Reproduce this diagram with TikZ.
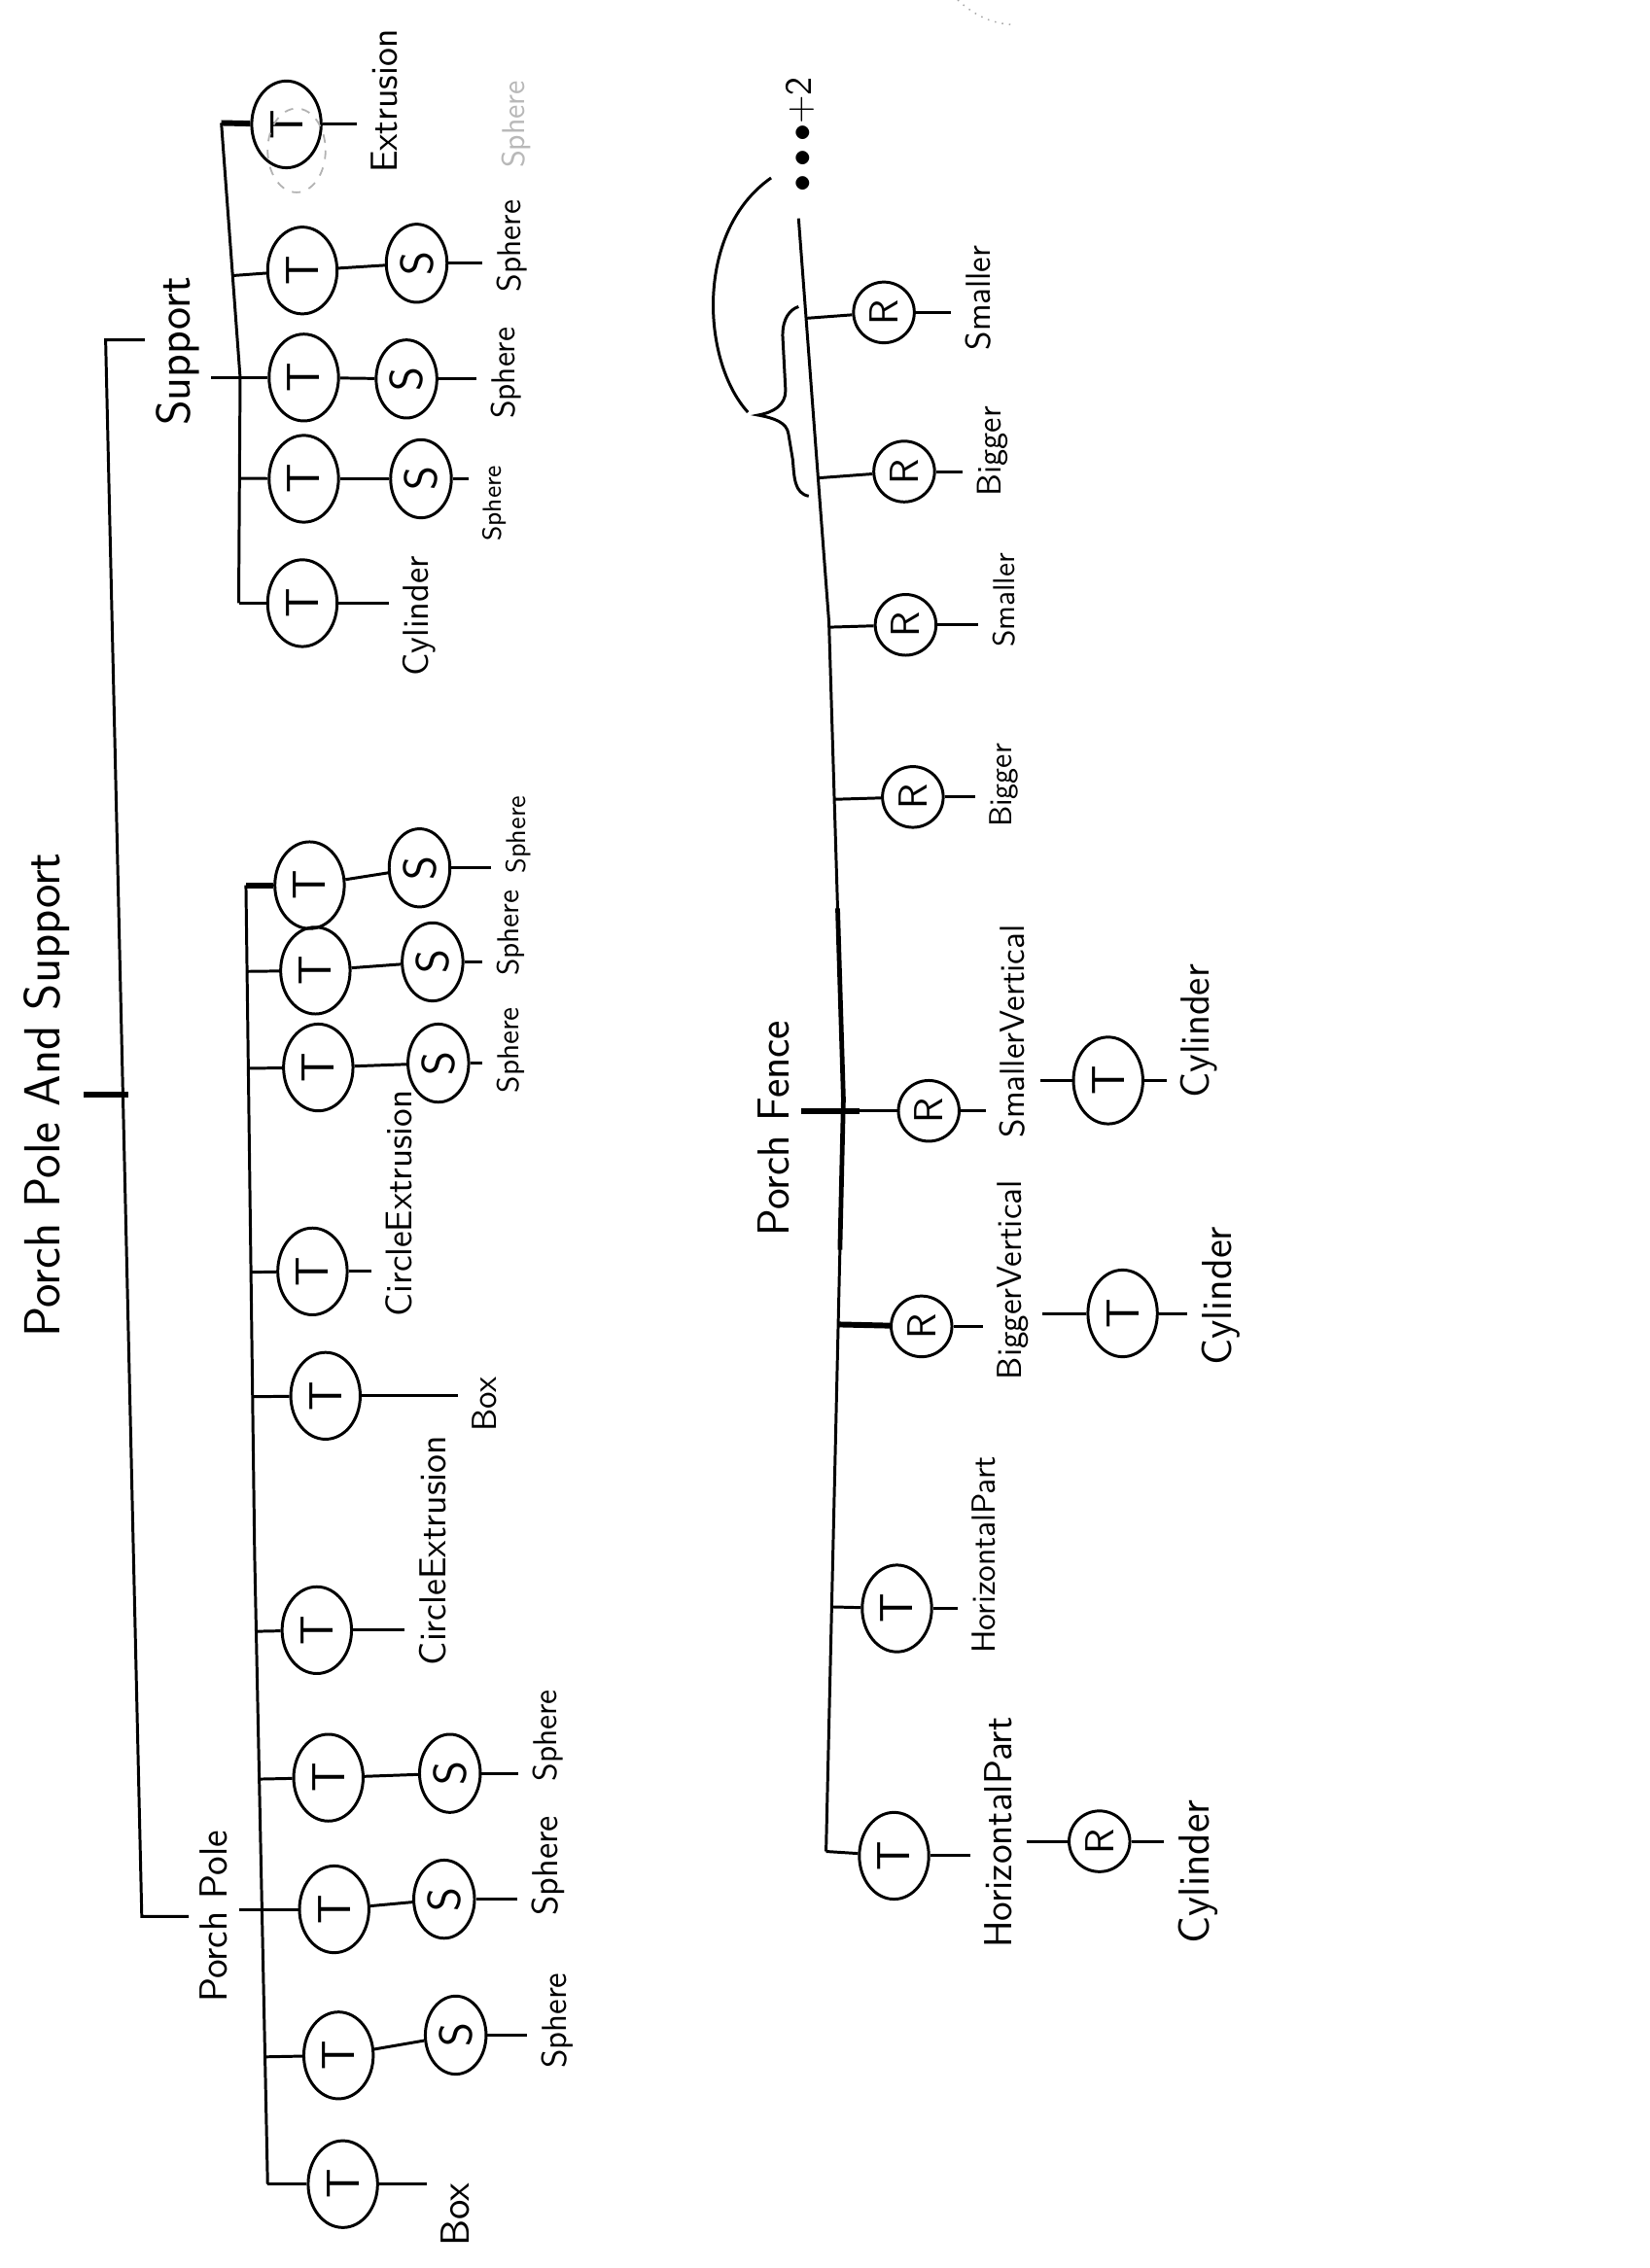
\documentclass[tikz,border=0pt]{standalone}
\usetikzlibrary{shapes.geometric}
\usetikzlibrary{calc}
\renewcommand{\familydefault}{\sfdefault}
\newcommand{\lblsize}[1]{\fontsize{#1}{#1}\selectfont}
\tikzset{
  tnode/.style={ellipse, draw, rotate=90, minimum width=30pt, minimum height=24pt, inner sep=0pt, font=\lblsize{16}},
  snode/.style={tnode, minimum width=27pt, minimum height=21pt},
  rnode/.style={tnode, minimum width=21pt, minimum height=21pt, font=\lblsize{14}},
  leaf/.style={rotate=90, inner sep=1pt, outer sep=4pt, font=\lblsize{11}},
  hublabel/.style={leaf, outer sep=3pt},
  hub/.style={line width=2pt},
  ghost/.style={draw=black!30, line width=0.6pt, dashed},
}

\begin{document}
\begin{tikzpicture}[x=0.5pt,y=0.5pt,yscale=-1,xscale=1,line width=1pt]
\useasboundingbox (0,0) rectangle (1140,1568);

% Text Node
\node[leaf, font=\lblsize{17.5}] (title) at (32,757) {Porch Pole And Support};
\node[hublabel, font=\lblsize{16.5}] (sup) at (123,243) {Support};
\node[hublabel, font=\lblsize{13.5}] (pole) at (148,1325) {Porch Pole};

%Straight Lines: root bracket
\coordinate (brtop) at (73,235);
\coordinate (brbot) at (98,1325);
\draw (brtop -| sup.north) -- (brtop) -- (brbot) -- (brbot -| pole.north);
\draw[hub] (title.south) -- ++(31,0);

%%% Support
\coordinate (sb1) at (153,85);
\coordinate (sb2) at (166,261);
\coordinate (sb3) at (165,417);
\draw (sb1) -- (sb2) -- (sb3);

\node[tnode] (st1) at (198,86) {T};
\node[leaf, font=\lblsize{13}] (stl1) at (266,70) {Extrusion};
\draw[hub] (sb1) -- (st1);
\draw (st1) -- (st1 -| stl1.north);
% erased traces
\draw[ghost] (205,104) ellipse [x radius=20, y radius=29];
\node[leaf, text=black!28, font=\lblsize{11}] (ghost) at (357,86) {Sphere};

\node[tnode] (st2) at (209,187) {T};
\node[snode] (ss2) at (288,182) {S};
\node[leaf, font=\lblsize{11.5}] (stl2) at (354,170) {Sphere};
\draw ($(sb1)!(st2)!(sb2)$) -- (st2);
\draw (st2) -- (ss2);
\draw (ss2) -- (ss2 -| stl2.north);

\node[tnode] (st3) at (210,261) {T};
\node[snode] (ss3) at (281,262) {S};
\node[leaf, font=\lblsize{11.5}] (stl3) at (350,258) {Sphere};
\draw (sup.south |- st3) -- (st3);
\draw (st3) -- (ss3);
\draw (ss3) -- (ss3 -| stl3.north);

\node[tnode] (st4) at (210,331) {T};
\node[snode] (ss4) at (291,331) {S};
\node[leaf, font=\lblsize{9}] (stl4) at (342,348) {Sphere};
\draw ($(sb2)!(st4)!(sb3)$) -- (st4);
\draw (st4) -- (ss4);
\draw (ss4) -- (ss4 -| stl4.north);

\node[tnode] (st5) at (209,417) {T};
\node[leaf, font=\lblsize{12.5}] (stl5) at (290,426) {Cylinder};
\draw (sb3) -- (st5);
\draw (st5) -- (st5 -| stl5.north);

%%% Porch Pole
\coordinate (pb1) at (170,612);
\coordinate (pb2) at (176,1075);
\coordinate (pb3) at (185,1510);
\draw (pb1) -- (pb2) -- (pb3);

\node[tnode] (pt1) at (214,612) {T};
\node[snode] (ps1) at (290,600) {S};
\node[leaf, font=\lblsize{9.5}] (ptl1) at (358,577) {Sphere};
\draw[hub] (pb1) -- (pt1);
\draw (pt1) -- (ps1);
\draw (ps1) -- (ps1 -| ptl1.north);

\node[tnode] (pt2) at (218,671) {T};
\node[snode] (ps2) at (299,665) {S};
\node[leaf, font=\lblsize{10.5}] (ptl2) at (353,645) {Sphere};
\draw ($(pb1)!(pt2)!(pb2)$) -- (pt2);
\draw (pt2) -- (ps2);
\draw (ps2) -- (ps2 -| ptl2.north);

\node[tnode] (pt3) at (220,738) {T};
\node[snode] (ps3) at (303,735) {S};
\node[leaf, font=\lblsize{10.5}] (ptl3) at (353,726) {Sphere};
\draw ($(pb1)!(pt3)!(pb2)$) -- (pt3);
\draw (pt3) -- (ps3);
\draw (ps3) -- (ps3 -| ptl3.north);

\node[tnode] (pt4) at (216,879) {T};
\node[leaf, font=\lblsize{12.8}] (ptl4) at (276,832) {CircleExtrusion};
\draw ($(pb1)!(pt4)!(pb2)$) -- (pt4);
\draw (pt4) -- (pt4 -| ptl4.north);

\node[tnode] (pt5) at (225,965) {T};
\node[leaf, font=\lblsize{12}] (ptl5) at (335,971) {Box};
\draw ($(pb1)!(pt5)!(pb2)$) -- (pt5);
\draw (pt5) -- (pt5 -| ptl5.north);

\node[tnode] (pt6) at (219,1127) {T};
\node[leaf, font=\lblsize{13}] (ptl6) at (299,1072) {CircleExtrusion};
\draw ($(pb2)!(pt6)!(pb3)$) -- (pt6);
\draw (pt6) -- (pt6 -| ptl6.north);

\node[tnode] (pt7) at (227,1229) {T};
\node[snode] (ps7) at (311,1226) {S};
\node[leaf, font=\lblsize{11.5}] (ptl7) at (379,1200) {Sphere};
\draw ($(pb2)!(pt7)!(pb3)$) -- (pt7);
\draw (pt7) -- (ps7);
\draw (ps7) -- (ps7 -| ptl7.north);

\node[tnode] (pt8) at (231,1320) {T};
\node[snode] (ps8) at (307,1313) {S};
\node[leaf, font=\lblsize{12.5}] (ptl8) at (379,1290) {Sphere};
\draw (pole.south |- pt8) -- (pt8);
\draw (pt8) -- (ps8);
\draw (ps8) -- (ps8 -| ptl8.north);

\node[tnode] (pt9) at (234,1421) {T};
\node[snode] (ps9) at (315,1407) {S};
\node[leaf, font=\lblsize{12}] (ptl9) at (385,1397) {Sphere};
\draw ($(pb2)!(pt9)!(pb3)$) -- (pt9);
\draw (pt9) -- (ps9);
\draw (ps9) -- (ps9 -| ptl9.north);

\node[tnode] (pt10) at (237,1510) {T};
\node[leaf, font=\lblsize{14}] (ptl10) at (315,1531) {Box};
\draw (pb3) -- (pt10);
\draw (pt10) -- (pt10 -| ptl10.north);

%%% Porch Fence
\node[hublabel, font=\lblsize{15.5}] (fence) at (535,780) {Porch Fence};
\node[leaf, outer sep=0pt, font=\lblsize{13}] (more) at (553,93) {$\bullet\bullet\bullet$+2};
\coordinate (fb1) at (552,151);
\coordinate (fb2) at (573,430);
\coordinate (fb3) at (583,760);
\coordinate (fb4) at (571,1280);
\draw (fb1) -- (fb2) -- (fb3) -- (fb4);
\draw[line width=1.6pt] ($(fb2)!0.6!(fb3)$) -- (fb3) -- ($(fb3)!0.2!(fb4)$);

\node[rnode] (fr1) at (611,216) {R};
\node[leaf, font=\lblsize{12}] (frl1) at (676,206) {Smaller};
\draw ($(fb1)!(fr1)!(fb2)$) -- (fr1);
\draw (fr1) -- (fr1 -| frl1.north);

\node[rnode] (fr2) at (625,326) {R};
\node[leaf, font=\lblsize{11.8}] (frl2) at (686,312) {Bigger};
\draw ($(fb1)!(fr2)!(fb2)$) -- (fr2);
\draw (fr2) -- (fr2 -| frl2.north);

\node[rnode] (fr3) at (626,432) {R};
\node[leaf, font=\lblsize{10.5}] (frl3) at (694,415) {Smaller};
\draw ($(fb2)!(fr3)!(fb3)$) -- (fr3);
\draw (fr3) -- (fr3 -| frl3.north);

\node[rnode] (fr4) at (631,551) {R};
\node[leaf, font=\lblsize{11}] (frl4) at (694,543) {Bigger};
\draw ($(fb2)!(fr4)!(fb3)$) -- (fr4);
\draw (fr4) -- (fr4 -| frl4.north);

% brace over the Bigger / Smaller pair
\draw (559,343) .. controls (549,341) and (549,330) .. (548,318) -- (545,300) .. controls (544,292) and (535,289) .. (524,287) .. controls (535,285) and (543,280) .. (543,270) -- (541,232) .. controls (541,220) and (546,214) .. (552,212);
\draw (517,285) .. controls (485,250) and (480,160) .. (533,123);

\node[rnode] (fr5) at (642,768) {R};
\node[leaf, font=\lblsize{12}] (frl5) at (700,713) {SmallerVertical};
\node[tnode] (ft5) at (766,747) {T};
\node[leaf, font=\lblsize{14}] (ftl5) at (829,713) {Cylinder};
\draw[hub] (fence.south |- fr5) -- ($(fence.south |- fr5)+(40,0)$);
\draw (fence.south |- fr5) -- (fr5);
\draw (fr5) -- (fr5 -| frl5.north);
\draw (frl5.south |- ft5) -- (ft5);
\draw (ft5) -- (ft5 -| ftl5.north);

\node[rnode] (fr6) at (637,917) {R};
\node[leaf, font=\lblsize{12}] (frl6) at (700,885) {BiggerVertical};
\node[tnode] (ft6) at (776,908) {T};
\node[leaf, font=\lblsize{14.5}] (ftl6) at (844,896) {Cylinder};
\draw[hub] ($(fb3)!(fr6)!(fb4)$) -- (fr6);
\draw (fr6) -- (fr6 -| frl6.north);
\draw (frl6.south |- ft6) -- (ft6);
\draw (ft6) -- (ft6 -| ftl6.north);

\node[tnode] (ft7) at (620,1112) {T};
\node[leaf, font=\lblsize{11.5}] (ftl7) at (680,1075) {HorizontalPart};
\draw ($(fb3)!(ft7)!(fb4)$) -- (ft7);
\draw (ft7) -- (ft7 -| ftl7.north);

\node[tnode] (ft8) at (618,1283) {T};
\node[leaf, font=\lblsize{13.5}] (ftl8) at (690,1267) {HorizontalPart};
\node[rnode] (fr8) at (760,1273) {R};
\node[leaf, font=\lblsize{15}] (frl8) at (828,1294) {Cylinder};
\draw (fb4) -- (ft8);
\draw (ft8) -- (ft8 -| ftl8.north);
\draw (ftl8.south |- fr8) -- (fr8);
\draw (fr8) -- (fr8 -| frl8.north);

% faint trace at the page edge
\draw[black!35, line width=0.5pt, dotted] (662,0) .. controls (675,12) and (688,17) .. (702,17);

\end{tikzpicture}
\end{document}
